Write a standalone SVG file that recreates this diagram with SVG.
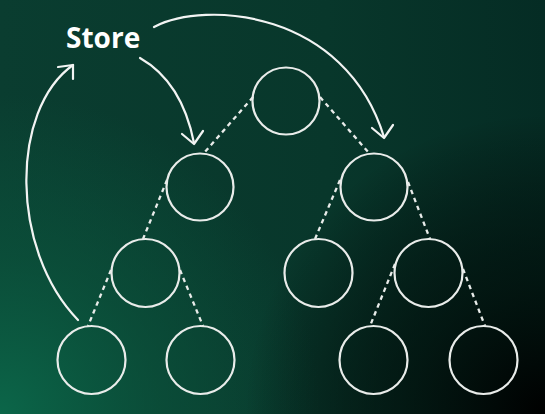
<svg xmlns="http://www.w3.org/2000/svg" width="545" height="414" viewBox="0 0 545 414">
<defs>
<linearGradient id="bg" x1="0" y1="0" x2="1" y2="0">
<stop offset="0" stop-color="#0a3d30"/>
<stop offset="0.6" stop-color="#08372b"/>
<stop offset="1" stop-color="#052c24"/>
</linearGradient>
<radialGradient id="glow" cx="0" cy="414" r="320" gradientUnits="userSpaceOnUse">
<stop offset="0" stop-color="#0b6649" stop-opacity="1"/>
<stop offset="0.5" stop-color="#0b5a40" stop-opacity="0.55"/>
<stop offset="1" stop-color="#0b5a40" stop-opacity="0"/>
</radialGradient>
<radialGradient id="dark" cx="545" cy="414" r="300" gradientUnits="userSpaceOnUse">
<stop offset="0" stop-color="#000000" stop-opacity="1"/>
<stop offset="0.45" stop-color="#010c09" stop-opacity="0.7"/>
<stop offset="1" stop-color="#000000" stop-opacity="0"/>
</radialGradient>
<style>
.node{fill:none;stroke:#e9ecea;stroke-width:2.2}
.edge{fill:none;stroke:#e9ecea;stroke-width:2.3;stroke-dasharray:4.5 4}
.arrow{fill:none;stroke:#f2f4f3;stroke-width:2.2;stroke-linecap:round;stroke-linejoin:round}
.label{font-family:"Open Sans","Liberation Sans",sans-serif;font-weight:700;font-size:28px;fill:#ffffff}
</style>
</defs>
<rect width="545" height="414" fill="url(#bg)"/>
<rect width="545" height="414" fill="url(#glow)"/>
<rect width="545" height="414" fill="url(#dark)"/>

<g id="connectors">
<line class="edge" x1="253" y1="97" x2="204" y2="153"/>
<line class="edge" x1="320" y1="97" x2="369" y2="153"/>
<line class="edge" x1="167" y1="180" x2="143" y2="239"/>
<line class="edge" x1="340" y1="180" x2="315" y2="239"/>
<line class="edge" x1="408" y1="182" x2="430" y2="239"/>
<line class="edge" x1="111" y1="270" x2="88" y2="326"/>
<line class="edge" x1="180" y1="270" x2="203" y2="326"/>
<line class="edge" x1="395" y1="264" x2="370" y2="326"/>
<line class="edge" x1="463" y1="269" x2="485" y2="326"/>
</g>

<g id="arrows">
<path class="arrow" d="M140,58 Q182,82 194,143"/>
<polyline class="arrow" points="182,134 194,144 203,131"/>
<path class="arrow" d="M154,27 C205,0 345,10 384,137"/>
<polyline class="arrow" points="372,128 384,138 393,125"/>
<path class="arrow" d="M78,320 C10,250 10,110 73,65"/>
<polyline class="arrow" points="58,67 73,65 73,79"/>
</g>

<g id="store"><text class="label" x="66" y="48">Store</text></g>

<g id="n-root"><circle class="node" cx="286" cy="101" r="33.5"/></g>
<g id="n-l1a"><circle class="node" cx="200" cy="187" r="33.5"/></g>
<g id="n-l1b"><circle class="node" cx="374" cy="187" r="33.5"/></g>
<g id="n-l2a"><circle class="node" cx="145.5" cy="273" r="34"/></g>
<g id="n-l2b"><circle class="node" cx="318.5" cy="273" r="34"/></g>
<g id="n-l2c"><circle class="node" cx="428.5" cy="273" r="34"/></g>
<g id="n-l3a"><circle class="node" cx="91.5" cy="360" r="34"/></g>
<g id="n-l3b"><circle class="node" cx="200.5" cy="360" r="34"/></g>
<g id="n-l3c"><circle class="node" cx="373.5" cy="360" r="34"/></g>
<g id="n-l3d"><circle class="node" cx="483.5" cy="360" r="34"/></g>
</svg>
